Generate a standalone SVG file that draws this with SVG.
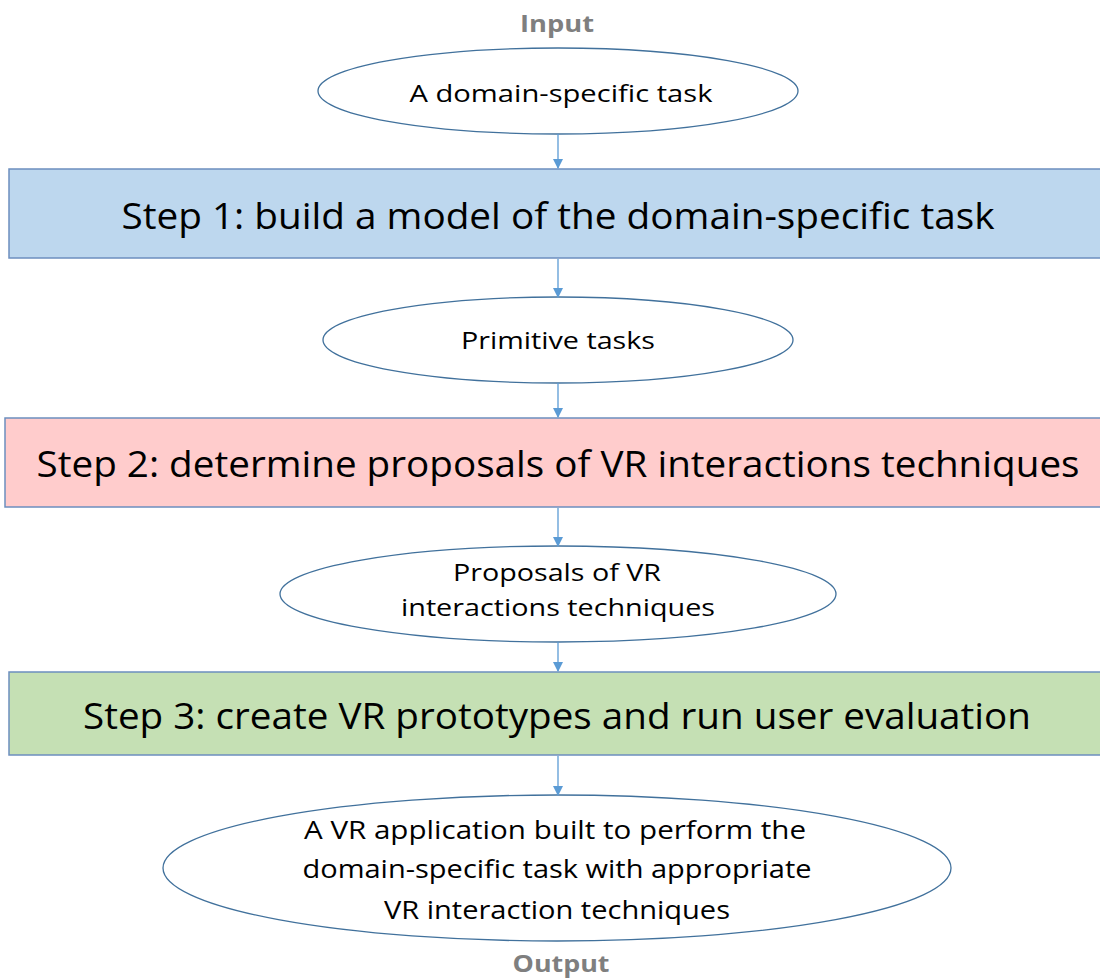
<svg xmlns="http://www.w3.org/2000/svg" width="1100" height="978" viewBox="0 0 1100 978">
<defs>
<style>
.lbl{font-family:"Open Sans","Noto Sans","Liberation Sans",sans-serif;fill:#000;text-anchor:middle;dominant-baseline:central}
.io{font-family:"Open Sans","Liberation Sans",sans-serif;font-weight:bold;fill:#7f7f7f;font-size:24px;text-anchor:middle;dominant-baseline:central}
.ell{fill:#fff;stroke:#41719c;stroke-width:1.3}
.box{stroke:#6c8ebf;stroke-width:1.5}
.step{font-size:36px}
.small{font-size:23px}
.conn line{stroke:#5b9bd5;stroke-width:1.3}
</style>
<marker id="ah" markerWidth="10" markerHeight="10" refX="9" refY="5" orient="auto" markerUnits="userSpaceOnUse">
<path d="M0,0 L10,5 L0,10 z" fill="#5b9bd5"/>
</marker>
</defs>
<rect width="1100" height="978" fill="#fff"/>
<g id="input-label"><text class="io" x="557" y="22" textLength="74" lengthAdjust="spacingAndGlyphs">Input</text></g>
<g id="n1"><ellipse class="ell" cx="558" cy="91" rx="240" ry="43"/>
<text class="lbl small" x="561" y="93" textLength="303" lengthAdjust="spacingAndGlyphs">A domain-specific task</text></g>
<g id="step1"><rect class="box" x="9" y="169" width="1100" height="89" fill="#bdd7ee"/>
<text class="lbl step" x="558" y="215" textLength="873" lengthAdjust="spacingAndGlyphs">Step 1: build a model of the domain-specific task</text></g>
<g id="n2"><ellipse class="ell" cx="558" cy="340" rx="235" ry="43"/>
<text class="lbl small" x="558" y="340" textLength="194" lengthAdjust="spacingAndGlyphs">Primitive tasks</text></g>
<g id="step2"><rect class="box" x="5" y="418" width="1100" height="89" fill="#ffcccc"/>
<text class="lbl step" x="558" y="463" textLength="1043" lengthAdjust="spacingAndGlyphs">Step 2: determine proposals of VR interactions techniques</text></g>
<g id="n3"><ellipse class="ell" cx="558" cy="594" rx="278" ry="48"/>
<text class="lbl small" x="557" y="572" textLength="208" lengthAdjust="spacingAndGlyphs">Proposals of VR</text>
<text class="lbl small" x="558" y="607" textLength="314" lengthAdjust="spacingAndGlyphs">interactions techniques</text></g>
<g id="step3"><rect class="box" x="9" y="672" width="1100" height="83" fill="#c5e0b4"/>
<text class="lbl step" x="557" y="715" textLength="948" lengthAdjust="spacingAndGlyphs">Step 3: create VR prototypes and run user evaluation</text></g>
<g id="n4"><ellipse class="ell" cx="557" cy="868" rx="394" ry="73"/>
<text class="lbl" font-size="25" x="555" y="829" textLength="502" lengthAdjust="spacingAndGlyphs">A VR application built to perform the</text>
<text class="lbl" font-size="25" x="557" y="868" textLength="509" lengthAdjust="spacingAndGlyphs">domain-specific task with appropriate</text>
<text class="lbl" font-size="25" x="557" y="909" textLength="346" lengthAdjust="spacingAndGlyphs">VR interaction techniques</text></g>
<g id="output-label"><text class="io" x="561" y="962" textLength="97" lengthAdjust="spacingAndGlyphs">Output</text></g>
<g id="connectors" class="conn">
<line x1="558" y1="134" x2="558" y2="168" marker-end="url(#ah)"/>
<line x1="558" y1="259" x2="558" y2="297" marker-end="url(#ah)"/>
<line x1="558" y1="383" x2="558" y2="417" marker-end="url(#ah)"/>
<line x1="558" y1="508" x2="558" y2="546" marker-end="url(#ah)"/>
<line x1="558" y1="642" x2="558" y2="671" marker-end="url(#ah)"/>
<line x1="558" y1="756" x2="558" y2="795" marker-end="url(#ah)"/>
</g>
</svg>
